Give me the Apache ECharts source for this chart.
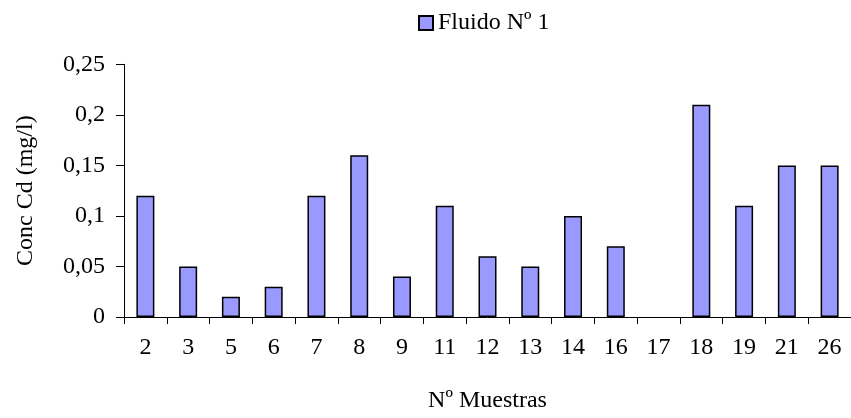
<!DOCTYPE html>
<html>
<head>
<meta charset="utf-8">
<script src="https://cdn.jsdelivr.net/npm/echarts@6/dist/echarts.min.js"></script>
<style>
  html, body { margin: 0; padding: 0; background: #fff; }
  #chart { width: 851px; height: 418px; }
</style>
</head>
<body>
<div id="chart"></div>
<script>
// Conc Cd por muestra
const muestras = ['2', '3', '5', '6', '7', '8', '9', '11', '12', '13', '14', '16', '17', '18', '19', '21', '26'];
const fluido1 = [0.12, 0.05, 0.02, 0.03, 0.12, 0.16, 0.04, 0.11, 0.06, 0.05, 0.10, 0.07, 0, 0.21, 0.11, 0.15, 0.15];
const yTicks = [0, 0.05, 0.1, 0.15, 0.2, 0.25];

const font = 'Liberation Serif';
const fs = 24;
const myChart = echarts.init(document.getElementById('chart'));

myChart.setOption({
  animation: false,
  textStyle: { fontFamily: font, color: '#000' },
  legend: {
    left: 413,
    top: 6,
    itemWidth: 14,
    itemHeight: 14,
    itemGap: 10,
    textStyle: { fontFamily: font, fontSize: fs, color: '#000' },
    data: [{ name: 'Fluido Nº 1', icon: 'rect' }]
  },
  grid: {
    left: 124,
    top: 64.3,
    width: 738,
    height: 258.4,
    containLabel: false
  },
  xAxis: {
    type: 'category',
    data: muestras,
    boundaryGap: true,
    name: 'Nº Muestras',
    nameLocation: 'middle',
    nameGap: 72,
    nameTextStyle: { fontFamily: font, fontSize: fs, color: '#000' },
    axisLine: { lineStyle: { color: '#000', width: 1 } },
    axisTick: { show: true, length: 7, lineStyle: { color: '#000' } },
    axisLabel: { fontFamily: font, fontSize: fs, color: '#000', margin: 19 }
  },
  yAxis: {
    type: 'value',
    min: yTicks[0],
    max: yTicks[yTicks.length - 1],
    interval: 0.05,
    name: 'Conc Cd (mg/l)',
    nameLocation: 'middle',
    nameGap: 86,
    nameRotate: 90,
    nameTextStyle: { fontFamily: font, fontSize: fs, color: '#000' },
    splitLine: { show: false },
    axisLine: { show: true, lineStyle: { color: '#000', width: 1 } },
    axisTick: { show: true, length: 8, lineStyle: { color: '#000' } },
    axisLabel: {
      fontFamily: font,
      fontSize: fs,
      color: '#000',
      margin: 19,
      formatter: (v) => String(Math.round(v * 100) / 100).replace('.', ',')
    }
  },
  series: [
    {
      name: 'Fluido Nº 1',
      type: 'bar',
      barWidth: 18,
      // a zero bar draws nothing, not even its outline
      data: fluido1.map((v) => (v === 0 ? { value: v, itemStyle: { borderWidth: 0 } } : v)),
      itemStyle: {
        color: '#9999FF',
        borderColor: '#000',
        borderWidth: 1.5
      }
    }
  ]
});
</script>
</body>
</html>
